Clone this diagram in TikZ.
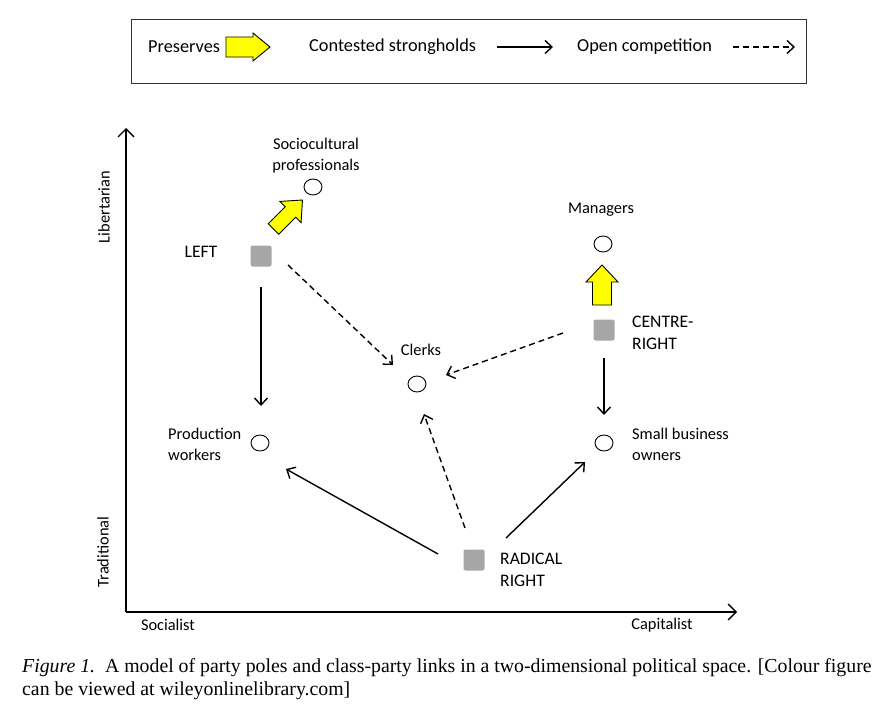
\documentclass[tikz,border=0pt]{standalone}
\usepackage{fontspec}
\setmainfont{Carlito}
\newfontfamily\capfont{Liberation Serif}
\usetikzlibrary{arrows.meta,shapes.geometric}
\definecolor{sqgray}{HTML}{A6A6A6}
\definecolor{yel}{HTML}{FFFF00}
\tikzset{
  classnode/.style={draw, ellipse, line width=0.9pt, minimum width=18pt, minimum height=16pt, inner sep=0pt},
  partynode/.style={fill=sqgray, rounded corners=2pt, minimum size=21pt, inner sep=0pt},
  lbl/.style={font=\fontsize{16.4}{21}\selectfont, inner sep=0pt},
  plbl/.style={font=\fontsize{17.6}{22}\selectfont, inner sep=0pt},
  leg/.style={font=\fontsize{18.3}{22}\selectfont, inner sep=0pt, anchor=west},
  strong/.style={line width=1.4pt, -{Straight Barb[length=7pt,width=13pt,line width=1.4pt]}},
  openc/.style={strong, dash pattern=on 6pt off 4pt},
  yarrowstyle/.style={draw=black, fill=yel, line width=0.9pt, line join=miter},
  axis/.style={line width=1.4pt, -{Straight Barb[length=8pt,width=16pt,line width=1.4pt]}}
}
\begin{document}
\begin{tikzpicture}[x=1pt,y=-1pt]
\useasboundingbox (0,0) rectangle (892,706);
% legend
\draw[line width=0.9pt, draw=black!80] (131,19) rectangle (806,83);
\node[leg] (lpres) at (148,47) {Preserves};
\begin{scope}[shift={(226,47)}]
\draw[yarrowstyle] (0,-10) -- (27,-10) -- (27,-14) -- (44,0) -- (27,14) -- (27,10) -- (0,10) -- cycle;
\end{scope}
\node[leg] (lcont) at (309,47) {Contested strongholds};
\coordinate (ls1) at (497,47); \coordinate (ls2) at (553,47);
\draw[strong] (ls1) -- (ls2);
\node[leg] (lopen) at (577,47) {Open competition};
\coordinate (ld1) at (733,47); \coordinate (ld2) at (795,47);
\draw[openc] (ld1) -- (ld2);
% axes
\coordinate (origin) at (126,612);
\coordinate (ytop) at (126,128);
\coordinate (xend) at (737,612);
\draw[axis] (origin) -- (ytop);
\draw[axis] (origin) -- (xend);
\node[lbl, rotate=90] (lib) at (104,207) {Libertarian};
\node[lbl, rotate=90] (trad) at (103,552) {Traditional};
\node[lbl] (soc) at (168,625) {Socialist};
\node[lbl] (cap) at (662,625) {Capitalist};
% class nodes
\node[classnode] (socio) at (313,187) {};
\node[lbl, align=center] (sociolbl) at (316,155.5) {Sociocultural\\professionals};
\node[classnode] (managers) at (603,244) {};
\node[lbl] (managerslbl) at (601,210) {Managers};
\node[classnode] (clerks) at (417,384) {};
\node[lbl] (clerkslbl) at (421,350) {Clerks};
\node[classnode] (prod) at (260,443) {};
\node[lbl, align=left, anchor=west] (prodlbl) at (168,444.5) {Production\\workers};
\node[classnode] (sbo) at (604,443) {};
\node[lbl, align=left, anchor=west] (sbolbl) at (632,444.5) {Small business\\owners};
% party nodes
\node[partynode] (left) at (261,256) {};
\node[plbl] (leftlbl) at (201,252) {LEFT};
\node[partynode] (cr) at (604,330) {};
\node[plbl, align=left, anchor=west] (crlbl) at (632,332.5) {CENTRE-\\RIGHT};
\node[partynode] (rr) at (474,560) {};
\node[plbl, align=left, anchor=west] (rrlbl) at (500,570) {RADICAL\\RIGHT};
% preserves arrows
\begin{scope}[shift={(273.5,229)}, rotate=45]
\draw[yarrowstyle] (0,-7.5) -- (24,-7.5) -- (24,-15) -- (41,0) -- (24,15) -- (24,7.5) -- (0,7.5) -- cycle;
\end{scope}
\begin{scope}[shift={(602,305)}, rotate=90]
\draw[yarrowstyle] (0,-9.5) -- (23,-9.5) -- (23,-16) -- (40,0) -- (23,16) -- (23,9.5) -- (0,9.5) -- cycle;
\end{scope}
% contested strongholds
\draw[strong] ([shift={(0,31)}]left.center) -- ([shift={(1,-37)}]prod.center);
\draw[strong] ([shift={(0,28)}]cr.center) -- ([shift={(0,-28)}]sbo.center);
\draw[strong] ([shift={(-36,-6)}]rr.center) -- ([shift={(26,26)}]prod.center);
\draw[strong] ([shift={(32,-22)}]rr.center) -- ([shift={(-19,19)}]sbo.center);
% open competition
\draw[openc] ([shift={(27,9)}]left.center) -- ([shift={(-24,-19)}]clerks.center);
\draw[openc] ([shift={(-41,3)}]cr.center) -- ([shift={(29,-9)}]clerks.center);
\draw[openc] ([shift={(-9,-32)}]rr.center) -- ([shift={(7,30)}]clerks.center);
% caption
\node[inner sep=0pt, anchor=west, align=left, font=\capfont\fontsize{19.8}{23}\selectfont] (caption) at (22,679)
 {\textit{Figure 1.}\ \ A model of party poles and class-party links in a two-dimensional political space. [Colour figure\\can be viewed at wileyonlinelibrary.com]};
\end{tikzpicture}
\end{document}
